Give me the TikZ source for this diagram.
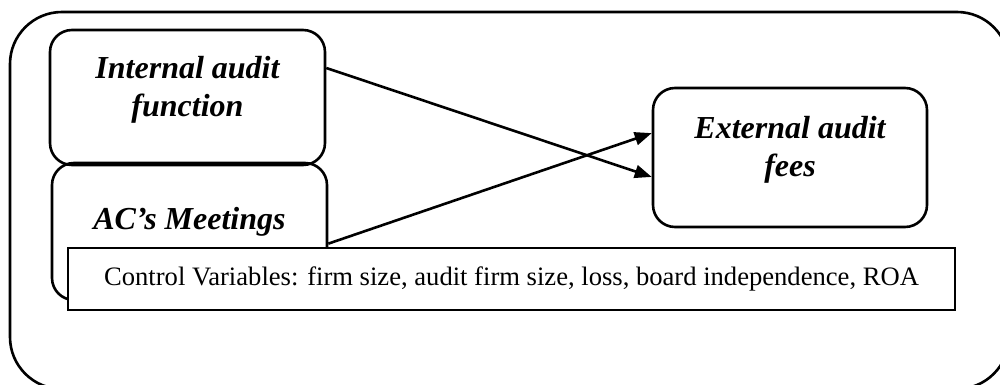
\documentclass[tikz,border=0pt]{standalone}
\usepackage{fontspec}
\setmainfont{Liberation Serif}
\usetikzlibrary{arrows.meta}
\begin{document}
\begin{tikzpicture}[x=0.5pt,y=-0.5pt,
  frame/.style={draw,line width=1.3pt,rounded corners=26pt,minimum width=499.5pt,minimum height=188.5pt,inner sep=0pt},
  varbox/.style={draw,line width=1.3pt,rounded corners=11pt,inner sep=0pt},
  vartext/.style={font=\fontsize{16}{19}\selectfont\bfseries\itshape,align=center,inner sep=0pt},
  ctrlbox/.style={draw,line width=1.3pt,fill=white,minimum width=443.5pt,minimum height=31pt,inner sep=0pt,font=\fontsize{13.3}{16}\selectfont},
  link/.style={line width=1.3pt,-{Triangle[length=8.5pt,width=6.5pt]}}]
\useasboundingbox[clip] (0,0) rectangle (1000,385);
% outer frame, running past the right and lower edges
\node[frame] (outer) at (509.5,200.5) {};
% explanatory variables
\node[varbox,minimum width=137.5pt,minimum height=67.5pt] (iaf) at (187.5,97.5) {};
\node[varbox,minimum width=137.5pt,minimum height=68.5pt] (acm) at (189.5,231.5) {};
% dependent variable
\node[varbox,minimum width=137pt,minimum height=69.5pt] (eaf) at (790,157.5) {};
\node[vartext] (iaftext) at (187.5,90) {Internal audit\\function};
\node[vartext] (acmtext) at (189.5,222) {AC’s Meetings};
\node[vartext] (eaftext) at (790,150) {External audit\\fees};
% hypothesised links
\draw[link] (iaf.12) -- (eaf.188.5);
\draw[link] (acm.355.2) -- (eaf.170.3);
% control variables
\node[ctrlbox] (ctrl) at (511.5,279) {Control Variables: firm size, audit firm size, loss, board independence, ROA};
\end{tikzpicture}
\end{document}
